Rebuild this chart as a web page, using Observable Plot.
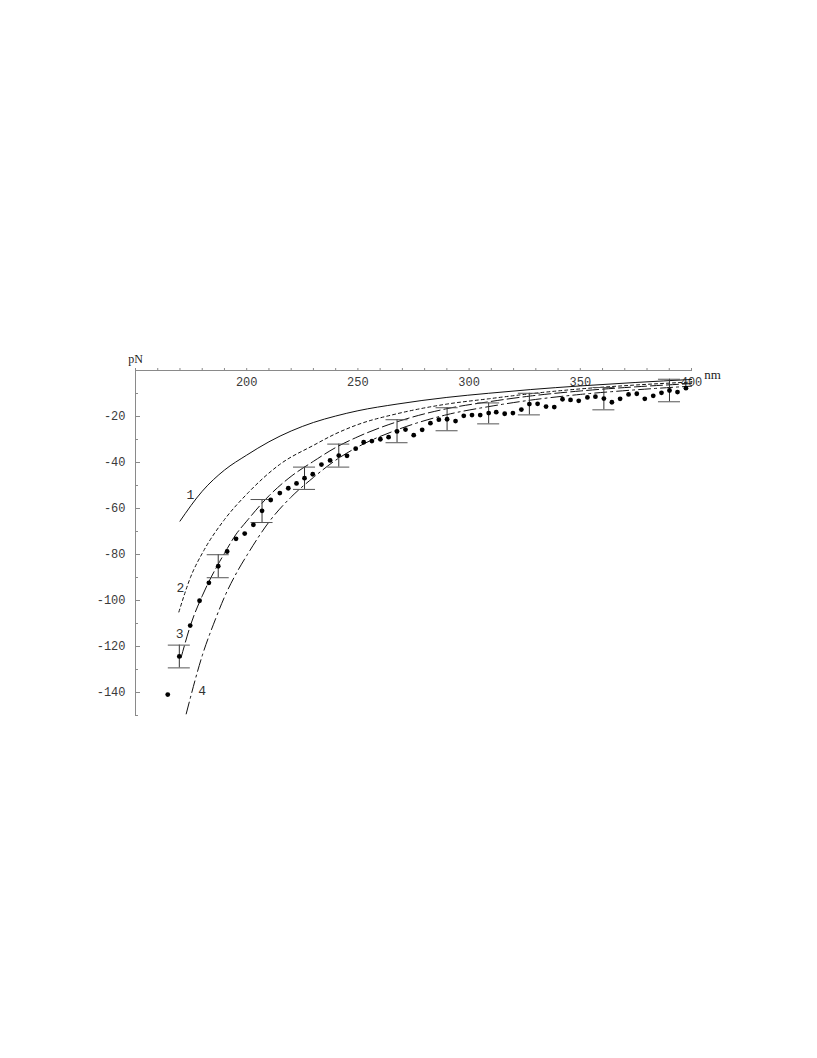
<!DOCTYPE html>
<html>
<head>
<meta charset="utf-8">
<script src="https://cdn.jsdelivr.net/npm/d3@7"></script>
<script src="https://cdn.jsdelivr.net/npm/@observablehq/plot@0.6"></script>
<style>
  html, body { margin: 0; padding: 0; background: #fff; }
  #chart svg { display: block; }
</style>
</head>
<body>
<div id="chart"></div>
<script>
// ---- data ----
const dotX = [164.5, 169.7, 174.6, 178.8, 183.0, 187.2, 191.2, 195.2, 199.1, 203.0, 206.9, 210.8, 214.9, 218.7, 222.4, 226.0, 229.7, 233.6, 237.5, 241.4, 245.1, 249.0, 252.6, 256.3, 260.1, 263.8, 267.6, 271.4, 275.1, 278.9, 282.6, 286.4, 290.1, 293.9, 297.6, 301.3, 305.0, 308.8, 312.2, 316.0, 319.7, 323.5, 327.1, 330.8, 334.6, 338.3, 342.0, 345.6, 349.3, 353.2, 356.8, 360.6, 364.2, 367.9, 371.7, 375.4, 379.0, 382.8, 386.5, 390.1, 393.7, 397.5];
const dotY = [-140.9, -124.3, -110.9, -100.1, -92.3, -85.1, -78.7, -73.2, -70.9, -67.1, -61.0, -56.3, -53.3, -51.2, -49.1, -46.8, -45.1, -40.9, -39.1, -37.0, -37.1, -34.0, -31.2, -30.7, -29.9, -29.0, -26.5, -25.7, -28.1, -25.8, -22.9, -21.4, -21.2, -22.0, -19.7, -19.4, -19.4, -18.5, -18.1, -18.8, -18.5, -17.0, -14.6, -14.5, -15.7, -15.9, -12.5, -12.8, -13.2, -11.7, -11.4, -12.2, -13.8, -12.3, -10.4, -10.1, -12.3, -11.0, -9.7, -8.7, -9.4, -7.7];

const errX = [169.7, 187.2, 206.9, 226.0, 241.4, 267.6, 290.1, 308.8, 327.1, 360.6, 390.1];
const errTop = [-119.4, -80.1, -56.1, -42.0, -32.0, -21.4, -16.2, -14.1, -9.9, -7.4, -3.8];
const errBottom = [-129.3, -90.1, -66.1, -51.7, -42.0, -31.4, -26.2, -23.2, -19.3, -17.1, -13.6];

const c1X = [170, 180, 190, 200, 210, 220, 230, 240, 250, 267.6, 290, 308.8, 327.5, 350, 375, 400];
const c1Y = [-65.5, -52.5, -43.3, -36.8, -31.0, -26.3, -22.6, -19.8, -17.5, -14.6, -11.7, -9.9, -8.3, -6.7, -5.2, -3.9];

const c2X = [169.5, 174.7, 180.7, 189.7, 200.2, 215.2, 230.1, 240, 250, 267.6, 290, 308.8, 327.5, 350, 375, 400];
const c2Y = [-105, -90, -78.3, -65.2, -53.6, -40.6, -32.5, -27.5, -23.5, -18.8, -14.6, -12.3, -10.1, -8.0, -6.3, -5.0];

const c3X = [170.5, 175, 180, 187, 190, 195, 200, 210, 220, 230, 240, 250, 267.6, 290, 308.8, 327.5, 350, 375, 400];
const c3Y = [-124.8, -110, -98, -84.5, -79.5, -71.5, -65.5, -54.5, -46, -39.5, -33.5, -28.8, -22.3, -16.6, -13.6, -11.1, -8.9, -7.1, -5.7];

const c4X = [172.8, 180, 186, 190, 196, 200, 210.7, 220, 230, 240, 250, 267.6, 290, 308.8, 327.5, 350, 375, 400];
const c4Y = [-149.3, -124, -108, -98.5, -87, -80.5, -65, -55, -46.5, -39, -33.2, -25.8, -19.2, -15.7, -12.9, -10.4, -8.4, -6.8];

const curveLabelText = ["1", "2", "3", "4"];
const curveLabelX = [174.7, 170.2, 169.9, 180.0];
const curveLabelY = [-53.9, -94.3, -114.5, -139.4];

const xDomain = [150, 400];
const yDomain = [-150, 0];
const xMinorTicks = d3.range(150, 401, 10);
const xLabelTicks = [200, 250, 300, 350, 400];
const yMajorTicks = [-140, -120, -100, -80, -60, -40, -20];
const yMinorTicks = [-150, -130, -110, -90, -70, -50, -30, -10];
const xUnit = "nm";
const yUnit = "pN";

// ---- build tables ----
const dots = dotX.map((x, i) => ({x, y: dotY[i]}));
const errs = errX.map((x, i) => ({x, top: errTop[i], bottom: errBottom[i]}));
const toRows = (xs, ys) => xs.map((x, i) => ({x, y: ys[i]}));
const c1 = toRows(c1X, c1Y), c2 = toRows(c2X, c2Y), c3 = toRows(c3X, c3Y), c4 = toRows(c4X, c4Y);
const curveLabels = curveLabelText.map((t, i) => ({t, x: curveLabelX[i], y: curveLabelY[i]}));
const xLabels = xLabelTicks.map(v => ({x: v, y: 0}));

const capHalf = 4.95; // half-width of error-bar caps (nm)
const mono = "Liberation Mono, DejaVu Sans Mono, monospace";
const serif = "Liberation Serif, DejaVu Serif, serif";
const axisColor = "#8a8a8a";
const textColor = "#3a3a3a";

const chart = Plot.plot({
  width: 817,
  height: 1058,
  marginTop: 370,
  marginBottom: 343,
  marginLeft: 135,
  marginRight: 126,
  x: {domain: xDomain},
  y: {domain: yDomain},
  style: {background: "white", fontFamily: mono, fontSize: "12px", color: textColor},
  marks: [
    // axes lines
    Plot.ruleY([yDomain[1]], {stroke: axisColor, strokeWidth: 1}),
    Plot.ruleX([xDomain[0]], {stroke: axisColor, strokeWidth: 1}),
    // x ticks (upward), labels below the line
    Plot.axisX({anchor: "top", ticks: xMinorTicks, tickSize: 3, tickFormat: () => "", stroke: axisColor, label: null}),
    Plot.text(xLabels, {x: "x", y: "y", text: d => String(d.x), dy: 12, fill: textColor, fontFamily: mono, fontSize: 12}),
    // y ticks (inward), labels left
    Plot.axisY({anchor: "left", ticks: yMajorTicks, tickSize: -5, tickPadding: 15, tickFormat: d => String(d), stroke: axisColor, fill: textColor, label: null}),
    Plot.axisY({anchor: "left", ticks: yMinorTicks, tickSize: -3, tickFormat: () => "", stroke: axisColor, label: null}),
    // unit labels
    Plot.text([yUnit], {frameAnchor: "top-left", dy: -16, textAnchor: "middle", fontFamily: serif, fontSize: 12, fill: "#222"}),
    Plot.text([xUnit], {frameAnchor: "top-right", dx: 21, dy: -1, textAnchor: "middle", fontFamily: serif, fontSize: 13, fill: "#222"}),
    // theory curves
    Plot.line(c1, {x: "x", y: "y", curve: "monotone-x", stroke: "#111", strokeWidth: 1}),
    Plot.line(c2, {x: "x", y: "y", curve: "monotone-x", stroke: "#111", strokeWidth: 1, strokeDasharray: "3,3"}),
    Plot.line(c3, {x: "x", y: "y", curve: "monotone-x", stroke: "#111", strokeWidth: 1, strokeDasharray: "12,4"}),
    Plot.line(c4, {x: "x", y: "y", curve: "monotone-x", stroke: "#111", strokeWidth: 1, strokeDasharray: "12,4,2,4"}),
    // error bars
    Plot.ruleX(errs, {x: "x", y1: "top", y2: "bottom", stroke: "#333", strokeWidth: 1}),
    Plot.ruleY(errs, {y: "top", x1: d => d.x - capHalf, x2: d => d.x + capHalf, stroke: "#555", strokeWidth: 1}),
    Plot.ruleY(errs, {y: "bottom", x1: d => d.x - capHalf, x2: d => d.x + capHalf, stroke: "#555", strokeWidth: 1}),
    // data points
    Plot.dot(dots, {x: "x", y: "y", r: 2.4, fill: "#000", stroke: null}),
    // curve labels
    Plot.text(curveLabels, {x: "x", y: "y", text: "t", fontFamily: mono, fontSize: 13, fill: "#333"})
  ]
});
document.getElementById("chart").appendChild(chart);
</script>
</body>
</html>
